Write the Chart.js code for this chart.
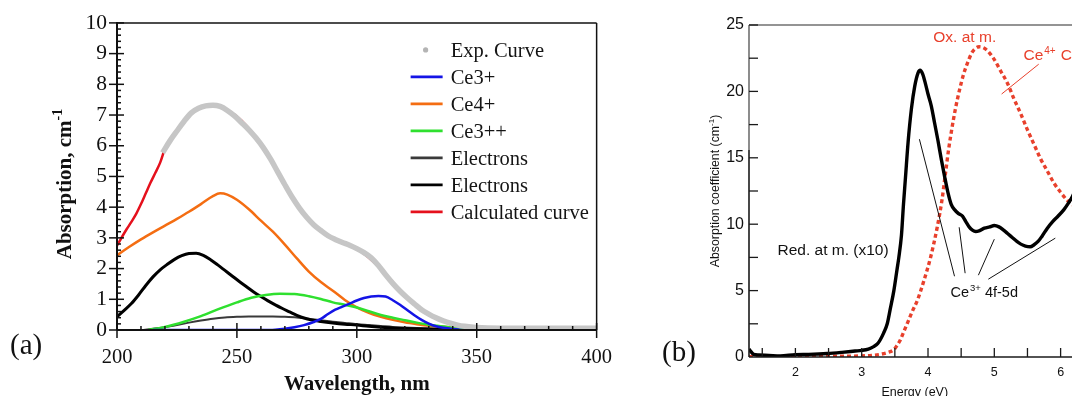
<!DOCTYPE html>
<html><head><meta charset="utf-8">
<script src="https://cdn.jsdelivr.net/npm/chart.js@4.4.1/dist/chart.umd.min.js"></script>
<style>
html,body{margin:0;padding:0;background:#fff;width:1072px;height:396px;overflow:hidden;position:relative}
#ca{position:absolute;left:0;top:0;width:627px;height:396px}
#cb{position:absolute;left:640px;top:0;width:460px;height:396px}
</style></head><body>
<canvas id="ca" width="627" height="396"></canvas>
<canvas id="cb" width="460" height="396"></canvas>
<script>
// ---------- Panel (a) data ----------
const wlTicks = [200, 250, 300, 350, 400];
const absTicks = [0, 1, 2, 3, 4, 5, 6, 7, 8, 9, 10];
const legendLabelsA = ['Exp. Curve', 'Ce3+', 'Ce4+', 'Ce3++', 'Electrons', 'Electrons', 'Calculated curve'];

const expWl  = [219,222,225,228,231,234,237,240,243,246,249,252,255,258,261,264,267,270,273,276,279,282,285,288,291,294,297,300,303,306,309,312,315,318,321,324,327,330,333,336,339,342,345,350,360,370,380,390,400];
const expAbs = [5.77,6.15,6.48,6.8,7.07,7.22,7.3,7.32,7.28,7.15,6.97,6.75,6.52,6.25,5.94,5.57,5.15,4.73,4.33,3.98,3.68,3.43,3.24,3.07,2.95,2.85,2.76,2.65,2.52,2.35,2.1,1.8,1.52,1.27,1.05,0.85,0.66,0.52,0.4,0.3,0.22,0.16,0.12,0.08,0.06,0.06,0.06,0.06,0.06];

const ce3Wl  = [215,230,245,260,266,270,274,278,282,285,288,291,294,297,300,303,306,309,312,315,318,321,324,327,330,333,336,340,345];
const ce3Abs = [0,0,0,0,0.01,0.04,0.09,0.16,0.26,0.36,0.52,0.66,0.76,0.86,0.96,1.04,1.09,1.11,1.09,0.97,0.82,0.65,0.48,0.33,0.21,0.12,0.07,0.03,0];

const ce4Wl  = [200,205,210,215,220,225,230,235,240,243,246,250,255,260,265,270,275,280,285,290,295,300,305,310,315,320,325,330,335,340,345,350,355];
const ce4Abs = [2.43,2.7,2.95,3.18,3.4,3.62,3.85,4.1,4.36,4.45,4.41,4.24,3.93,3.56,3.2,2.78,2.33,1.9,1.56,1.28,0.98,0.74,0.56,0.43,0.33,0.25,0.19,0.14,0.11,0.08,0.05,0.03,0.01];

const ce3ppWl  = [213,220,228,235,242,250,256,262,268,274,280,285,290,295,300,305,310,315,320,325,330,335,340,345,350];
const ce3ppAbs = [0,0.1,0.27,0.45,0.67,0.9,1.05,1.14,1.18,1.17,1.1,1.01,0.9,0.82,0.73,0.61,0.49,0.4,0.32,0.24,0.17,0.12,0.08,0.04,0.02];

const elec1Wl  = [211,215,220,225,230,235,240,245,250,255,260,265,270,275,280,285,290,295,300,305,310,315,320,330,340,350,356];
const elec1Abs = [0,0.04,0.09,0.16,0.24,0.31,0.37,0.41,0.43,0.44,0.44,0.44,0.43,0.41,0.37,0.32,0.27,0.23,0.19,0.16,0.13,0.1,0.08,0.05,0.03,0.02,0];

const elec2Wl  = [200,203,206,209,212,215,218,221,224,227,230,233,236,239,242,245,248,251,254,257,260,263,266,269,272,275,278,281,285,290,295,300,305,310,320,330,340,350];
const elec2Abs = [0.43,0.64,0.86,1.14,1.45,1.73,1.96,2.14,2.3,2.42,2.49,2.5,2.43,2.29,2.12,1.94,1.76,1.58,1.41,1.24,1.09,0.95,0.82,0.7,0.59,0.48,0.39,0.33,0.28,0.23,0.19,0.16,0.12,0.09,0.05,0.03,0.015,0.005];

const calcWl  = [200,202,204,206,208,210,212,214,216,218,220,223,226,230,235,240,250,260,270,280,290,300,310,320,330,340,350,375,400];
const calcAbs = [2.75,3.02,3.28,3.52,3.78,4.1,4.45,4.8,5.12,5.45,5.9,6.3,6.62,7.0,7.25,7.3,6.95,6.05,4.73,3.58,2.98,2.65,2.0,1.12,0.5,0.2,0.08,0.06,0.06];

// ---------- Panel (b) data ----------
const energyTicks = [2, 3, 4, 5, 6];
const coefTicks = [0, 5, 10, 15, 20, 25];

const redAtmE = [1.3,1.33,1.37,1.45,1.6,1.77,2.0,2.2,2.48,2.7,2.9,3.0,3.1,3.18,3.24,3.28,3.33,3.385,3.43,3.485,3.53,3.56,3.6,3.63,3.66,3.7,3.75,3.8,3.85,3.88,3.92,3.96,4.0,4.05,4.1,4.15,4.2,4.25,4.3,4.35,4.4,4.46,4.52,4.57,4.62,4.67,4.72,4.77,4.85,4.93,5.0,5.07,5.14,5.2,5.27,5.34,5.4,5.47,5.54,5.6,5.66,5.72,5.8,5.88,5.96,6.05,6.12,6.18,6.24];
const redAtmCoef = [0.6,0.4,0.2,0.15,0.12,0.08,0.18,0.2,0.26,0.35,0.45,0.5,0.6,0.78,1.0,1.3,1.8,2.5,3.6,5.0,6.5,7.5,9.2,11.5,13.5,16.2,18.7,20.4,21.4,21.6,21.3,20.6,19.8,18.9,17.6,16.3,14.9,13.6,12.4,11.5,11.1,10.8,10.6,10.2,9.8,9.55,9.45,9.5,9.7,9.8,9.9,9.8,9.55,9.3,9.0,8.7,8.5,8.35,8.3,8.45,8.7,9.1,9.7,10.2,10.6,11.1,11.6,12.1,12.8];

const oxAtmE = [1.3,2.0,2.48,3.0,3.15,3.28,3.4,3.485,3.53,3.58,3.63,3.685,3.76,3.84,3.94,4.04,4.14,4.21,4.26,4.31,4.36,4.41,4.47,4.54,4.6,4.66,4.72,4.77,4.83,4.89,4.95,5.0,5.1,5.2,5.3,5.4,5.5,5.6,5.7,5.8,5.9,6.0,6.1,6.2,6.3];
const oxAtmCoef = [0.02,0.02,0.05,0.08,0.12,0.2,0.35,0.55,0.85,1.26,1.85,2.5,3.4,4.27,5.78,7.53,9.8,11.8,13.7,15.6,17.2,18.6,20.0,21.35,22.2,22.9,23.25,23.36,23.3,23.1,22.75,22.4,21.5,20.6,19.4,18.3,17.1,16.0,14.9,14.0,13.1,12.4,11.8,11.4,11.2];

// annotation leader lines (data units: E1, coef1, E2, coef2)
const ce3Leaders = [[3.87,16.4,4.40,6.08],[4.47,9.77,4.56,6.31],[5.0,8.87,4.76,6.16],[5.92,8.95,4.91,5.86]];
const ce4Leader = [5.11,19.8,5.67,22.05];

// ---------- helpers ----------
const serif = '"Liberation Serif","Times New Roman",serif';
const sans = '"Liberation Sans",Arial,sans-serif';
const pts = (xs, ys) => xs.map((x, i) => ({x: x, y: ys[i]}));

function drawRich(ctx, parts, x, y, align) {
  let total = 0;
  for (const p of parts) { ctx.font = p.f; p.w = ctx.measureText(p.t).width; total += p.w + (p.gap || 0); }
  let cx = align === 'center' ? x - total / 2 : (align === 'right' ? x - total : x);
  ctx.textAlign = 'left'; ctx.textBaseline = 'alphabetic';
  for (const p of parts) {
    ctx.font = p.f; if (p.c) ctx.fillStyle = p.c;
    ctx.fillText(p.t, cx, y + (p.dy || 0));
    cx += p.w + (p.gap || 0);
  }
}
function seg(ctx, x1, y1, x2, y2) { ctx.beginPath(); ctx.moveTo(x1, y1); ctx.lineTo(x2, y2); ctx.stroke(); }

// ---------- Panel (a) ----------
const frameA = {
  id: 'frameA',
  afterDraw(chart) {
    const ctx = chart.ctx, ca = chart.chartArea, x = chart.scales.x, y = chart.scales.y;
    ctx.save();
    ctx.strokeStyle = '#111'; ctx.lineCap = 'butt';
    ctx.lineWidth = 1.5;
    seg(ctx, ca.left, ca.top, ca.right, ca.top);
    seg(ctx, ca.right, ca.top, ca.right, ca.bottom);
    ctx.lineWidth = 2;
    seg(ctx, ca.left, ca.top - 1, ca.left, ca.bottom);
    seg(ctx, ca.left, ca.bottom, ca.right, ca.bottom);
    ctx.lineWidth = 1.5;
    for (let i = 0; i <= 50; i++) {
      const v = i * 0.2, py = y.getPixelForValue(v);
      if (i % 5 === 0) seg(ctx, ca.left - 8, py, ca.left + 7, py);
      else seg(ctx, ca.left - 1, py, ca.left + 4, py);
    }
    for (let i = 0; i <= 20; i++) {
      const v = 200 + i * 10, px = x.getPixelForValue(v);
      if (i % 5 === 0) seg(ctx, px, ca.bottom + 8, px, ca.bottom - 7);
      else seg(ctx, px, ca.bottom + 1, px, ca.bottom - 4);
    }
    // legend
    const ds = chart.data.datasets;
    const fs = 20.5;
    legendLabelsA.forEach((lab, i) => {
      const cy = ca.top + 27 + i * 27;
      const d = ds[i];
      if (i === 0) {
        ctx.fillStyle = '#b4b4b4';
        ctx.beginPath(); ctx.arc(ca.right - 171, cy, 2.6, 0, Math.PI * 2); ctx.fill();
      } else {
        ctx.strokeStyle = d.borderColor; ctx.lineWidth = 2.6;
        seg(ctx, ca.right - 186, cy, ca.right - 154, cy);
      }
      ctx.fillStyle = '#151515'; ctx.font = fs + 'px ' + serif;
      ctx.textAlign = 'left'; ctx.textBaseline = 'alphabetic';
      ctx.fillText(lab, ca.right - 146, cy + 7);
    });
    // axis titles
    ctx.fillStyle = '#111';
    ctx.font = 'bold 21px ' + serif; ctx.textAlign = 'center'; ctx.textBaseline = 'alphabetic';
    ctx.fillText('Wavelength, nm', (ca.left + ca.right) / 2, ca.bottom + 60);
    ctx.save();
    ctx.translate(ca.left - 53, 184); ctx.rotate(-Math.PI / 2);
    drawRich(ctx, [
      {t: 'Absorption, cm', f: 'bold 21px ' + serif},
      {t: '-1', f: 'bold 14px ' + serif, dy: -9}
    ], 0, 7, 'center');
    ctx.restore();
    ctx.font = '29px ' + serif; ctx.textAlign = 'left'; ctx.fillStyle = '#111';
    ctx.fillText('(a)', 10, 354);
    ctx.restore();
  }
};

new Chart(document.getElementById('ca'), {
  type: 'line',
  data: {
    datasets: [
      {label: legendLabelsA[0], data: pts(expWl, expAbs), borderColor: '#c6c6c6', borderWidth: 5.5, order: 0},
      {label: legendLabelsA[1], data: pts(ce3Wl, ce3Abs), borderColor: '#1414e6', borderWidth: 2.5, order: 2},
      {label: legendLabelsA[2], data: pts(ce4Wl, ce4Abs), borderColor: '#f46d12', borderWidth: 2.5, order: 4},
      {label: legendLabelsA[3], data: pts(ce3ppWl, ce3ppAbs), borderColor: '#2fe02f', borderWidth: 2.5, order: 3},
      {label: legendLabelsA[4], data: pts(elec1Wl, elec1Abs), borderColor: '#3a3a3a', borderWidth: 2, order: 6},
      {label: legendLabelsA[5], data: pts(elec2Wl, elec2Abs), borderColor: '#000000', borderWidth: 3, order: 5},
      {label: legendLabelsA[6], data: pts(calcWl, calcAbs), borderColor: '#e5101c', borderWidth: 2.5, order: 7}
    ]
  },
  options: {
    responsive: false, animation: false, devicePixelRatio: 1,
    layout: {padding: {top: 21, right: 23, left: 0, bottom: 0}},
    elements: {point: {radius: 0}, line: {cubicInterpolationMode: 'monotone', fill: false}},
    plugins: {legend: {display: false}, tooltip: {enabled: false}},
    scales: {
      x: {
        type: 'linear', min: 200, max: 400,
        border: {display: false}, grid: {display: false, drawTicks: false},
        ticks: {font: {family: serif, size: 20.5}, color: '#111', padding: 15, maxRotation: 0, autoSkip: false},
        afterBuildTicks: s => { s.ticks = wlTicks.map(v => ({value: v})); },
        afterFit: s => { s.height = 66; }
      },
      y: {
        type: 'linear', min: 0, max: 10,
        border: {display: false}, grid: {display: false, drawTicks: false},
        ticks: {font: {family: serif, size: 21.5}, color: '#111', padding: 10, autoSkip: false},
        afterBuildTicks: s => { s.ticks = absTicks.map(v => ({value: v})); },
        afterFit: s => { s.width = 117; }
      }
    }
  },
  plugins: [frameA]
});

// ---------- Panel (b) ----------
const frameB = {
  id: 'frameB',
  afterDraw(chart) {
    const ctx = chart.ctx, ca = chart.chartArea, x = chart.scales.x, y = chart.scales.y;
    const X = v => x.getPixelForValue(v), Y = v => y.getPixelForValue(v);
    ctx.save();
    ctx.lineCap = 'butt';
    ctx.lineWidth = 1.6;
    ctx.strokeStyle = '#707070';
    seg(ctx, ca.left, ca.top, ca.right + 20, ca.top);
    seg(ctx, ca.left, ca.top, ca.left, Y(15.6));
    ctx.strokeStyle = '#1a1a1a';
    seg(ctx, ca.left, Y(15.6), ca.left, ca.bottom);
    seg(ctx, ca.left, ca.bottom, ca.right + 20, ca.bottom);
    ctx.lineWidth = 1.3;
    for (let i = 3; i <= 12; i++) { const px = X(i * 0.5); seg(ctx, px, ca.bottom, px, ca.bottom - 9); }
    for (let i = 1; i <= 10; i++) { const py = Y(i * 2.5); seg(ctx, ca.left, py, ca.left + 9, py); }
    ctx.lineWidth = 1; ctx.strokeStyle = '#111';
    ce3Leaders.forEach(l => seg(ctx, X(l[0]), Y(l[1]), X(l[2]), Y(l[3])));
    ctx.strokeStyle = '#e8402c';
    seg(ctx, X(ce4Leader[0]), Y(ce4Leader[1]), X(ce4Leader[2]), Y(ce4Leader[3]));
    ctx.fillStyle = '#e8402c';
    drawRich(ctx, [{t: 'Ox. at m.', f: '15.5px ' + sans}], X(4.08), Y(24.1) + 5.5, 'left');
    drawRich(ctx, [
      {t: 'Ce', f: '15.5px ' + sans, gap: 1},
      {t: '4+', f: '10px ' + sans, dy: -6, gap: 5},
      {t: 'CT', f: '15.5px ' + sans}
    ], X(5.44), Y(22.8) + 5.5, 'left');
    ctx.fillStyle = '#111';
    drawRich(ctx, [{t: 'Red. at m. (x10)', f: '15.5px ' + sans}], X(1.73), Y(8.1) + 5.5, 'left');
    drawRich(ctx, [
      {t: 'Ce', f: '14.5px ' + sans, gap: 1},
      {t: '3+', f: '9.5px ' + sans, dy: -6, gap: 4},
      {t: '4f-5d', f: '14.5px ' + sans}
    ], X(4.34), Y(4.87) + 5, 'left');
    ctx.fillStyle = '#111';
    drawRich(ctx, [{t: 'Energy (eV)', f: '12.5px ' + sans}], (ca.left + ca.right) / 2, ca.bottom + 39, 'center');
    ctx.save();
    ctx.translate(ca.left - 34, (ca.top + ca.bottom) / 2); ctx.rotate(-Math.PI / 2);
    drawRich(ctx, [
      {t: 'Absorption coefficient (cm', f: '12.3px ' + sans},
      {t: '-1', f: '8px ' + sans, dy: -5},
      {t: ')', f: '12.3px ' + sans}
    ], 0, 4, 'center');
    ctx.restore();
    ctx.font = '29px ' + serif; ctx.textAlign = 'left'; ctx.textBaseline = 'alphabetic'; ctx.fillStyle = '#111';
    ctx.fillText('(b)', 22, 361);
    ctx.restore();
  }
};

new Chart(document.getElementById('cb'), {
  type: 'line',
  data: {
    datasets: [
      {label: 'Red. at m. (x10)', data: pts(redAtmE, redAtmCoef), borderColor: '#000000', borderWidth: 3.4, order: 0},
      {label: 'Ox. at m.', data: pts(oxAtmE, oxAtmCoef), borderColor: '#e8402c', borderWidth: 3.4, borderDash: [4, 3], borderCapStyle: 'butt', order: 1}
    ]
  },
  options: {
    responsive: false, animation: false, devicePixelRatio: 1,
    layout: {padding: {top: 25, right: 19.5, left: 0, bottom: 0}},
    elements: {point: {radius: 0}, line: {cubicInterpolationMode: 'monotone', fill: false}},
    plugins: {legend: {display: false}, tooltip: {enabled: false}},
    scales: {
      x: {
        type: 'linear', min: 1.3, max: 6.3,
        border: {display: false}, grid: {display: false, drawTicks: false},
        ticks: {font: {family: sans, size: 12.5}, color: '#111', padding: 8, maxRotation: 0, autoSkip: false},
        afterBuildTicks: s => { s.ticks = energyTicks.map(v => ({value: v})); },
        afterFit: s => { s.height = 39; }
      },
      y: {
        type: 'linear', min: 0, max: 25,
        border: {display: false}, grid: {display: false, drawTicks: false},
        ticks: {font: {family: sans, size: 16}, color: '#111', padding: 5, autoSkip: false},
        afterBuildTicks: s => { s.ticks = coefTicks.map(v => ({value: v})); },
        afterFit: s => { s.width = 109; }
      }
    }
  },
  plugins: [frameB]
});
</script>
</body></html>
